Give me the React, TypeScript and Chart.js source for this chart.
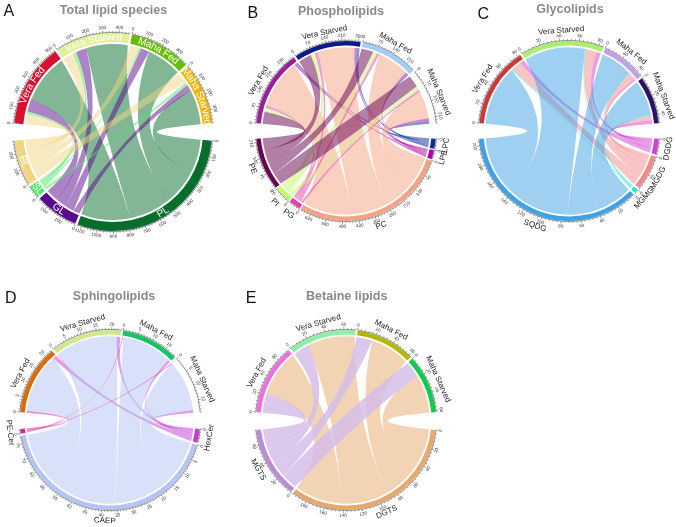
import React, { useEffect, useRef } from "react";
import { Chart, registerables } from "chart.js";

Chart.register(...registerables);

const conditions = ["Vera Fed", "Vera Starved", "Maha Fed", "Maha Starved"];

// Panel A: rows are conditions, columns follow aClasses
const aClasses = ["PL", "GL", "SL", "BL"];
const aVeraFed = [345, 90, 20, 70];
const aVeraStarved = [290, 75, 25, 75];
const aMahaFed = [245, 60, 15, 65];
const aMahaStarved = [245, 45, 20, 75];

// Panel B
const bClasses = ["LPC", "LPE", "PC", "PG", "PI", "PE"];
const bVeraFed = [8, 10, 228, 13, 17, 57];
const bVeraStarved = [14, 10, 171, 15, 20, 60];
const bMahaFed = [6, 10, 148, 13, 18, 55];
const bMahaStarved = [15, 10, 129, 11, 18, 55];

// Panel C
const cClasses = ["DGDG", "MGDG", "MGMG", "SQDG"];
const cVeraFed = [5, 11, 1, 66];
const cVeraStarved = [5, 12, 1, 67];
const cMahaFed = [2, 8, 1, 35];
const cMahaStarved = [4, 5, 1, 39];

// Panel D
const dClasses = ["HexCer", "CAEP", "PE-Cer"];
const dVeraFed = [1.4, 20.6, 0.7];
const dVeraStarved = [1.3, 21.55, 0.15];
const dMahaFed = [0.9, 17.7, 0.3];
const dMahaStarved = [0.9, 17.75, 0.35];

// Panel E
const eClasses = ["DGTS", "MGTS"];
const eVeraFed = [53, 22];
const eVeraStarved = [54, 18];
const eMahaFed = [45, 18];
const eMahaStarved = [44, 18];

const aColors = ["#D8122E", "#E1F196", "#66BE00", "#F6B400", "#066D2C", "#5A0A8C", "#4CE868", "#EFD584"];
const bColors = ["#9B1F9B", "#0A1A8C", "#A0CDFA", "#FFFFFF", "#0E2C9E", "#B000A8", "#F5A383", "#E840A8", "#C4FA6A", "#66004F"];
const cColors = ["#C93A3A", "#A6F06A", "#C39FE5", "#2E0F66", "#D23FD2", "#F58A8A", "#14E6C8", "#3FA2E6"];
const dColors = ["#D96C08", "#CFE88A", "#12C46A", "#FFFFFF", "#C23FD6", "#B4C4F5", "#E0209F"];
const eColors = ["#EB6FE0", "#8BEFA5", "#B5B800", "#08CE4C", "#E5A96B", "#B98CD8"];
const eRibbonFills = ["rgba(229,169,107,0.5)", "rgba(214,190,234,0.85)"];

type PanelDef = {
  letter: string; letterX: number; letterY: number;
  title: string; titleX: number; titleY: number;
  cx: number; cy: number; R: number; ring: number; ribbonGap: number;
  classes: string[]; rows: number[][]; colors: string[];
  step: number; bottomGap: number; inside: boolean; ribbonFills?: string[];
};

const panels: PanelDef[] = [
  { letter: "A", letterX: 3, letterY: 16, title: "Total lipid species", titleX: 113, titleY: 10.5, cx: 112.5, cy: 132, R: 99, ring: 9, ribbonGap: 2,
    classes: aClasses, rows: [aVeraFed, aVeraStarved, aMahaFed, aMahaStarved], colors: aColors, step: 100, bottomGap: 1.4, inside: true },
  { letter: "B", letterX: 247, letterY: 17, title: "Phospholipids", titleX: 340.5, titleY: 11, cx: 345.5, cy: 130.5, R: 90, ring: 4.5, ribbonGap: 1.8,
    classes: bClasses, rows: [bVeraFed, bVeraStarved, bMahaFed, bMahaStarved], colors: bColors, step: 70, bottomGap: 0.85, inside: false },
  { letter: "C", letterX: 477, letterY: 18, title: "Glycolipids", titleX: 569.5, titleY: 9, cx: 568.5, cy: 130.5, R: 90, ring: 4.5, ribbonGap: 1.8,
    classes: cClasses, rows: [cVeraFed, cVeraStarved, cMahaFed, cMahaStarved], colors: cColors, step: 20, bottomGap: 1.4, inside: false },
  { letter: "D", letterX: 5, letterY: 303, title: "Sphingolipids", titleX: 114, titleY: 296.5, cx: 110, cy: 420, R: 90, ring: 4.5, ribbonGap: 1.8,
    classes: dClasses, rows: [dVeraFed, dVeraStarved, dMahaFed, dMahaStarved], colors: dColors, step: 5, bottomGap: 1.4, inside: false },
  { letter: "E", letterX: 246, letterY: 303, title: "Betaine lipids", titleX: 347, titleY: 296.5, cx: 346.3, cy: 420, R: 90, ring: 4.5, ribbonGap: 1.8,
    classes: eClasses, rows: [eVeraFed, eVeraStarved, eMahaFed, eMahaStarved], colors: eColors, step: 20, bottomGap: 1.4, inside: false, ribbonFills: eRibbonFills },
];

const HALF = 132;
const FONT = '"Liberation Sans", Arial, sans-serif';
const TOP_EXTENT = 170;
const TOP_GAP = 1.4;
const BEND = 0.1;
const sum = (a: number[]) => a.reduce((x, y) => x + y, 0);

function hexAlpha(hex: string, alpha: number) {
  const n = parseInt(hex.slice(1), 16);
  return `rgba(${(n >> 16) & 255},${(n >> 8) & 255},${n & 255},${alpha})`;
}

function placedText(ctx: CanvasRenderingContext2D, text: string, cx: number, cy: number, r: number, th: number) {
  const bottom = Math.sin(th) > 0;
  ctx.save();
  ctx.translate(cx + r * Math.cos(th), cy + r * Math.sin(th));
  ctx.rotate(bottom ? th - Math.PI / 2 : th + Math.PI / 2);
  ctx.textAlign = "center";
  ctx.textBaseline = "middle";
  ctx.fillText(text, 0, 0);
  ctx.restore();
}

function curvedText(ctx: CanvasRenderingContext2D, text: string, cx: number, cy: number, r: number, th: number) {
  const bottom = Math.sin(th) > 0;
  const total = ctx.measureText(text).width;
  let run = -total / 2;
  for (const ch of text) {
    const w = ctx.measureText(ch).width;
    const d = run + w / 2;
    const a = bottom ? th - d / r : th + d / r;
    placedText(ctx, ch, cx, cy, r, a);
    run += w;
  }
}

// Quadratic edge between two rim angles; the control point sits near the centre,
// pushed along the chord's mid-direction as the link becomes long.
function edgeTo(ctx: CanvasRenderingContext2D, cx: number, cy: number, r: number, from: number, to: number) {
  const mx = (Math.cos(from) + Math.cos(to)) / 2;
  const my = (Math.sin(from) + Math.sin(to)) / 2;
  const m = Math.hypot(mx, my);
  const cr = BEND * r * (1 - m * m);
  const ux = m > 1e-4 ? mx / m : 0;
  const uy = m > 1e-4 ? my / m : 0;
  ctx.quadraticCurveTo(cx + cr * ux, cy + cr * uy, cx + r * Math.cos(to), cy + r * Math.sin(to));
}

function Panel({ def }: { def: PanelDef }) {
  const ref = useRef<HTMLCanvasElement | null>(null);
  useEffect(() => {
    if (!ref.current) return;
    const nTop = def.rows.length;
    const nBottom = def.classes.length;
    const rowTotals = def.rows.map(sum);
    const classTotals = def.classes.map((_, j) => sum(def.rows.map((r) => r[j])));
    const T = sum(rowTotals);
    const scale = (TOP_EXTENT - (nTop - 1) * TOP_GAP) / T;
    const bottomExtent = T * scale + (nBottom - 1) * def.bottomGap;
    const bigGap = (360 - TOP_EXTENT - bottomExtent) / 2;
    const totals = [...rowTotals, ...classTotals];
    const names = [...conditions, ...def.classes];
    const sliceData: number[] = [];
    const sliceColors: string[] = [];
    totals.forEach((v, i) => {
      sliceData.push(v);
      sliceColors.push(def.colors[i]);
      let g = i < nTop - 1 ? TOP_GAP : i === nTop - 1 ? bigGap : i < totals.length - 1 ? def.bottomGap : bigGap;
      sliceData.push(g / scale);
      sliceColors.push("rgba(0,0,0,0)");
    });

    const chordPlugin = {
      id: "chord",
      beforeDatasetsDraw(chart: any) {
        const ctx: CanvasRenderingContext2D = chart.ctx;
        const arcs = chart.getDatasetMeta(0).data;
        const cx = arcs[0].x;
        const cy = arcs[0].y;
        const r = def.R - def.ring - def.ribbonGap;
        const perUnit = (arcs[0].endAngle - arcs[0].startAngle) / totals[0];
        const rowPos = def.rows.map((_, i) => arcs[2 * i].startAngle as number);
        const classPos = def.classes.map((_, j) => arcs[2 * (nTop + j)].startAngle as number);
        const ribbons: { j: number; a0: number; a1: number; b0: number; b1: number }[] = [];
        for (let i = 0; i < nTop; i++) {
          for (let j = nBottom - 1; j >= 0; j--) {
            const w = def.rows[i][j] * perUnit;
            ribbons.push({ j, a0: rowPos[i], a1: rowPos[i] + w, b0: 0, b1: 0 });
            rowPos[i] += w;
          }
        }
        for (let j = 0; j < nBottom; j++) {
          for (let i = nTop - 1; i >= 0; i--) {
            const w = def.rows[i][j] * perUnit;
            const rib = ribbons[i * nBottom + (nBottom - 1 - j)];
            rib.b0 = classPos[j];
            rib.b1 = classPos[j] + w;
            classPos[j] += w;
          }
        }
        [...ribbons].sort((p, q) => p.j - q.j).forEach((rb) => {
          ctx.beginPath();
          ctx.moveTo(cx + r * Math.cos(rb.a0), cy + r * Math.sin(rb.a0));
          ctx.arc(cx, cy, r, rb.a0, rb.a1);
          edgeTo(ctx, cx, cy, r, rb.a1, rb.b0);
          ctx.arc(cx, cy, r, rb.b0, rb.b1);
          edgeTo(ctx, cx, cy, r, rb.b1, rb.a0);
          ctx.closePath();
          ctx.fillStyle = def.ribbonFills ? def.ribbonFills[rb.j] : hexAlpha(def.colors[nTop + rb.j], 0.5);
          ctx.fill();
        });
      },
      afterDatasetsDraw(chart: any) {
        const ctx: CanvasRenderingContext2D = chart.ctx;
        const arcs = chart.getDatasetMeta(0).data;
        const cx = arcs[0].x;
        const cy = arcs[0].y;
        const R = def.R;
        const perUnit = (arcs[0].endAngle - arcs[0].startAngle) / totals[0];
        const minor = def.step / 5;
        ctx.save();
        totals.forEach((total, i) => {
          const arc = arcs[2 * i];
          ctx.strokeStyle = "#333";
          ctx.lineWidth = 0.5;
          ctx.beginPath();
          ctx.arc(cx, cy, R + 0.6, arc.startAngle, arc.endAngle);
          ctx.stroke();
          for (let k = 0; k * minor <= total + 1e-6; k++) {
            const v = k * minor;
            const th = arc.startAngle + v * perUnit;
            const major = k % 5 === 0;
            const len = major ? 2.4 : 1.3;
            ctx.beginPath();
            ctx.moveTo(cx + (R + 0.6) * Math.cos(th), cy + (R + 0.6) * Math.sin(th));
            ctx.lineTo(cx + (R + 0.6 + len) * Math.cos(th), cy + (R + 0.6 + len) * Math.sin(th));
            ctx.stroke();
            if (major) {
              ctx.font = `4.6px ${FONT}`;
              ctx.fillStyle = "#333";
              placedText(ctx, String(v), cx, cy, R + 5.6, th);
            }
          }
          const mid = (arc.startAngle + arc.endAngle) / 2;
          if (def.inside) {
            ctx.font = `10px ${FONT}`;
            ctx.fillStyle = "#FFFFFF";
            curvedText(ctx, names[i], cx, cy, R - def.ring / 2, mid);
          } else {
            ctx.font = `8px ${FONT}`;
            ctx.fillStyle = "#222";
            placedText(ctx, names[i], cx, cy, R + 10.8, mid);
          }
        });
        const ox = def.cx - HALF;
        const oy = def.cy - HALF;
        ctx.textBaseline = "alphabetic";
        ctx.textAlign = "left";
        ctx.font = `16px ${FONT}`;
        ctx.fillStyle = "#111";
        ctx.fillText(def.letter, def.letterX - ox, def.letterY - oy);
        ctx.textAlign = "center";
        ctx.textBaseline = "middle";
        ctx.font = `bold 12.5px ${FONT}`;
        ctx.fillStyle = "#8A8A8A";
        ctx.fillText(def.title, def.titleX - ox, def.titleY - oy);
        ctx.restore();
      },
    };

    const chart = new Chart(ref.current, {
      type: "doughnut",
      data: {
        labels: sliceData.map((_, i) => (i % 2 === 0 ? names[i / 2] : "")),
        datasets: [{ data: sliceData, backgroundColor: sliceColors, borderWidth: 0 }],
      },
      options: {
        responsive: false,
        animation: false,
        rotation: 275,
        radius: def.R,
        cutout: `${((def.R - def.ring) / def.R) * 100}%`,
        events: [],
        layout: { padding: 0 },
        plugins: { legend: { display: false }, tooltip: { enabled: false }, title: { display: false } },
      },
      plugins: [chordPlugin],
    } as any);
    return () => chart.destroy();
  }, [def]);
  return (
    <canvas
      ref={ref}
      width={HALF * 2}
      height={HALF * 2}
      style={{ position: "absolute", left: def.cx - HALF, top: def.cy - HALF, width: HALF * 2, height: HALF * 2 }}
    />
  );
}

export default function App() {
  return (
    <div style={{ position: "fixed", left: 0, top: 0, width: 676, height: 527, overflow: "hidden", background: "#fff" }}>
      {panels.map((p) => (
        <Panel key={p.letter} def={p} />
      ))}
    </div>
  );
}
